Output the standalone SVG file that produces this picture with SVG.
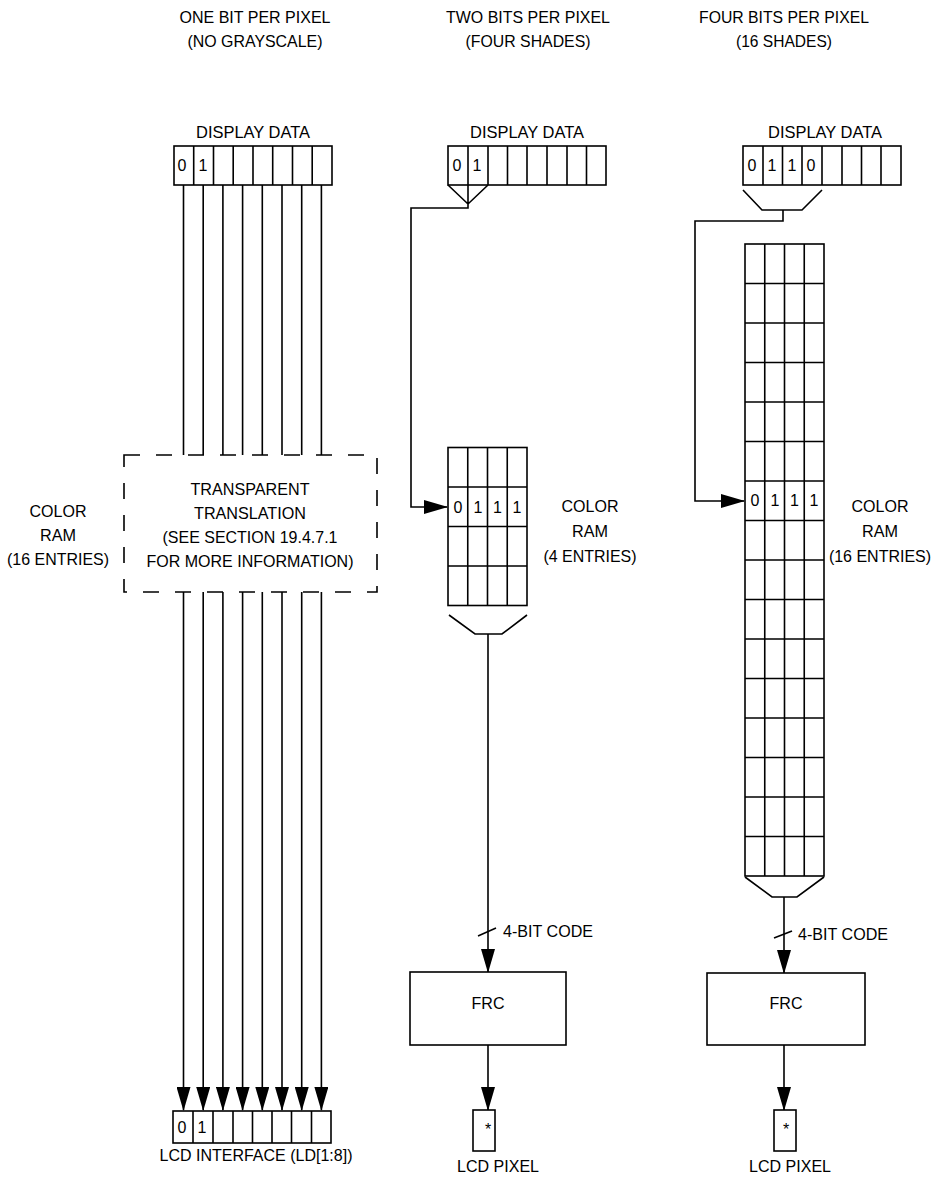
<svg xmlns="http://www.w3.org/2000/svg" width="938" height="1177" viewBox="0 0 938 1177">
<style>
text{font-family:"Liberation Sans",Arial,sans-serif;font-size:17px;fill:#000}
.d{font-size:16px}
.c{text-anchor:middle}
.ln{stroke:#000;stroke-width:1.6;fill:none}
.bx{stroke:#000;stroke-width:1.6;fill:#fff}
</style>
<defs>
<marker id="ah" markerWidth="24" markerHeight="14" refX="23" refY="7" orient="auto" markerUnits="userSpaceOnUse"><path d="M0,0 L24,7 L0,14 z" fill="#000"/></marker>
</defs>
<rect width="938" height="1177" fill="#fff"/>

<g id="titles">
<text class="c" x="255" y="23" textLength="151" lengthAdjust="spacingAndGlyphs">ONE BIT PER PIXEL</text>
<text class="c" x="255" y="47" textLength="135" lengthAdjust="spacingAndGlyphs">(NO GRAYSCALE)</text>
<text class="c" x="528" y="23" textLength="164" lengthAdjust="spacingAndGlyphs">TWO BITS PER PIXEL</text>
<text class="c" x="528" y="47" textLength="125" lengthAdjust="spacingAndGlyphs">(FOUR SHADES)</text>
<text class="c" x="784" y="23" textLength="170" lengthAdjust="spacingAndGlyphs">FOUR BITS PER PIXEL</text>
<text class="c" x="784" y="47" textLength="96" lengthAdjust="spacingAndGlyphs">(16 SHADES)</text>
</g>

<g id="connectors">
<path class="ln" d="M183.5,185 V455 M203.2,185 V455 M222.9,185 V455 M242.6,185 V455 M262.3,185 V455 M282,185 V455 M301.7,185 V455 M321.4,185 V455"/>
<g marker-end="url(#ah)">
<line class="ln" x1="183.5" y1="592" x2="183.5" y2="1110"/>
<line class="ln" x1="203.2" y1="592" x2="203.2" y2="1110"/>
<line class="ln" x1="222.9" y1="592" x2="222.9" y2="1110"/>
<line class="ln" x1="242.6" y1="592" x2="242.6" y2="1110"/>
<line class="ln" x1="262.3" y1="592" x2="262.3" y2="1110"/>
<line class="ln" x1="282" y1="592" x2="282" y2="1110"/>
<line class="ln" x1="301.7" y1="592" x2="301.7" y2="1110"/>
<line class="ln" x1="321.4" y1="592" x2="321.4" y2="1110"/>
</g>
<path class="ln" d="M448,185 L468,204 L488,185 M468,185 V208 H411 V507 H447" marker-end="url(#ah)"/>
<path class="ln" d="M449,615 L475,634 H502 L527,615"/>
<line class="ln" x1="488" y1="634" x2="488" y2="972" marker-end="url(#ah)"/>
<line class="ln" x1="478" y1="936" x2="496" y2="928" stroke-width="2.2"/>
<line class="ln" x1="488" y1="1045" x2="488" y2="1110" marker-end="url(#ah)"/>
<path class="ln" d="M743,190 L762,210 H802 L822,190 M783,210 V221 H695 V501 H744" marker-end="url(#ah)"/>
<path class="ln" d="M745,877 L772,897 H797 L824,877"/>
<line class="ln" x1="784" y1="897" x2="784" y2="973" marker-end="url(#ah)"/>
<line class="ln" x1="774" y1="938" x2="792" y2="931" stroke-width="1.8"/>
<line class="ln" x1="784" y1="1045" x2="784" y2="1110" marker-end="url(#ah)"/>
</g>

<g id="left-display-data">
<text class="c" x="253" y="138" textLength="114" lengthAdjust="spacingAndGlyphs">DISPLAY DATA</text>
<rect class="bx" x="174" y="146" width="158" height="39"/>
<path class="ln" d="M193.7,146 V185 M213.5,146 V185 M233.2,146 V185 M253,146 V185 M272.7,146 V185 M292.5,146 V185 M312.2,146 V185"/>
<text class="d c" x="182" y="171">0</text>
<text class="d c" x="203" y="171">1</text>
</g>

<g id="left-color-ram-label">
<text class="c" x="58" y="517" textLength="57" lengthAdjust="spacingAndGlyphs">COLOR</text>
<text class="c" x="58" y="541" textLength="36" lengthAdjust="spacingAndGlyphs">RAM</text>
<text class="c" x="58" y="565" textLength="102" lengthAdjust="spacingAndGlyphs">(16 ENTRIES)</text>
</g>

<g id="transparent-translation">
<rect x="124" y="455" width="253" height="137" fill="none" stroke="#000" stroke-width="1.6" stroke-dasharray="16 16"/>
<text class="c" x="250" y="495" textLength="119" lengthAdjust="spacingAndGlyphs">TRANSPARENT</text>
<text class="c" x="250" y="519" textLength="112" lengthAdjust="spacingAndGlyphs">TRANSLATION</text>
<text class="c" x="250" y="543" textLength="175" lengthAdjust="spacingAndGlyphs">(SEE SECTION 19.4.7.1</text>
<text class="c" x="250" y="567" textLength="207" lengthAdjust="spacingAndGlyphs">FOR MORE INFORMATION)</text>
</g>

<g id="lcd-interface">
<rect class="bx" x="173" y="1111" width="158" height="32"/>
<path class="ln" d="M193,1111 V1143 M213,1111 V1143 M233,1111 V1143 M252.5,1111 V1143 M272,1111 V1143 M291.5,1111 V1143 M311.5,1111 V1143"/>
<text class="d c" x="182" y="1133">0</text>
<text class="d c" x="202" y="1133">1</text>
<text class="c" x="256" y="1161" textLength="193" lengthAdjust="spacingAndGlyphs">LCD INTERFACE (LD[1:8])</text>
</g>

<g id="middle-display-data">
<text class="c" x="527" y="138" textLength="114" lengthAdjust="spacingAndGlyphs">DISPLAY DATA</text>
<rect class="bx" x="448" y="146" width="158" height="39"/>
<path class="ln" d="M468,146 V185 M488,146 V185 M507.5,146 V185 M527,146 V185 M547,146 V185 M567,146 V185 M586.5,146 V185"/>
<text class="d c" x="457" y="171">0</text>
<text class="d c" x="477" y="171">1</text>
</g>

<g id="middle-color-ram">
<rect class="bx" x="448" y="447.5" width="79" height="158"/>
<path class="ln" d="M467.75,447.5 V605.5 M487.5,447.5 V605.5 M507.25,447.5 V605.5 M448,487 H527 M448,526.5 H527 M448,566 H527"/>
<text class="d c" x="458" y="513">0</text>
<text class="d c" x="478" y="513">1</text>
<text class="d c" x="497.5" y="513">1</text>
<text class="d c" x="517" y="513">1</text>
<text class="c" x="590" y="512" textLength="57" lengthAdjust="spacingAndGlyphs">COLOR</text>
<text class="c" x="590" y="537" textLength="36" lengthAdjust="spacingAndGlyphs">RAM</text>
<text class="c" x="590" y="562" textLength="93" lengthAdjust="spacingAndGlyphs">(4 ENTRIES)</text>
</g>

<g id="middle-frc">
<text x="503" y="937" textLength="90" lengthAdjust="spacingAndGlyphs">4-BIT CODE</text>
<rect class="bx" x="410" y="972" width="156" height="73"/>
<text class="c" x="488" y="1009" textLength="33" lengthAdjust="spacingAndGlyphs">FRC</text>
</g>

<g id="middle-lcd-pixel">
<rect class="bx" x="473" y="1110" width="22" height="41"/>
<text class="d c" x="488" y="1135">*</text>
<text class="c" x="498" y="1172" textLength="82" lengthAdjust="spacingAndGlyphs">LCD PIXEL</text>
</g>

<g id="right-display-data">
<text class="c" x="825" y="138" textLength="114" lengthAdjust="spacingAndGlyphs">DISPLAY DATA</text>
<rect class="bx" x="743" y="146" width="158" height="39"/>
<path class="ln" d="M763,146 V185 M782.5,146 V185 M802,146 V185 M822,146 V185 M842,146 V185 M861.5,146 V185 M881,146 V185"/>
<text class="d c" x="752" y="171">0</text>
<text class="d c" x="772" y="171">1</text>
<text class="d c" x="792" y="171">1</text>
<text class="d c" x="811" y="171">0</text>
</g>

<g id="right-color-ram">
<rect class="bx" x="745" y="244" width="79" height="632"/>
<path class="ln" d="M764.75,244 V876 M784.5,244 V876 M804.25,244 V876
M745,283.5 H824 M745,323 H824 M745,362.5 H824 M745,402 H824 M745,441.5 H824 M745,481 H824 M745,520.5 H824 M745,560 H824 M745,599.5 H824 M745,639 H824 M745,678.5 H824 M745,718 H824 M745,757.5 H824 M745,797 H824 M745,836.5 H824"/>
<text class="d c" x="755" y="506">0</text>
<text class="d c" x="775" y="506">1</text>
<text class="d c" x="794.5" y="506">1</text>
<text class="d c" x="814" y="506">1</text>
<text class="c" x="880" y="512" textLength="57" lengthAdjust="spacingAndGlyphs">COLOR</text>
<text class="c" x="880" y="537" textLength="36" lengthAdjust="spacingAndGlyphs">RAM</text>
<text class="d c" x="880" y="562">(16 ENTRIES)</text>
</g>

<g id="right-frc">
<text x="798" y="940" textLength="90" lengthAdjust="spacingAndGlyphs">4-BIT CODE</text>
<rect class="bx" x="707" y="973" width="158" height="72"/>
<text class="c" x="786" y="1009" textLength="33" lengthAdjust="spacingAndGlyphs">FRC</text>
</g>

<g id="right-lcd-pixel">
<rect class="bx" x="774" y="1110" width="22" height="41"/>
<text class="d c" x="786" y="1135">*</text>
<text class="c" x="790" y="1172" textLength="82" lengthAdjust="spacingAndGlyphs">LCD PIXEL</text>
</g>
</svg>
